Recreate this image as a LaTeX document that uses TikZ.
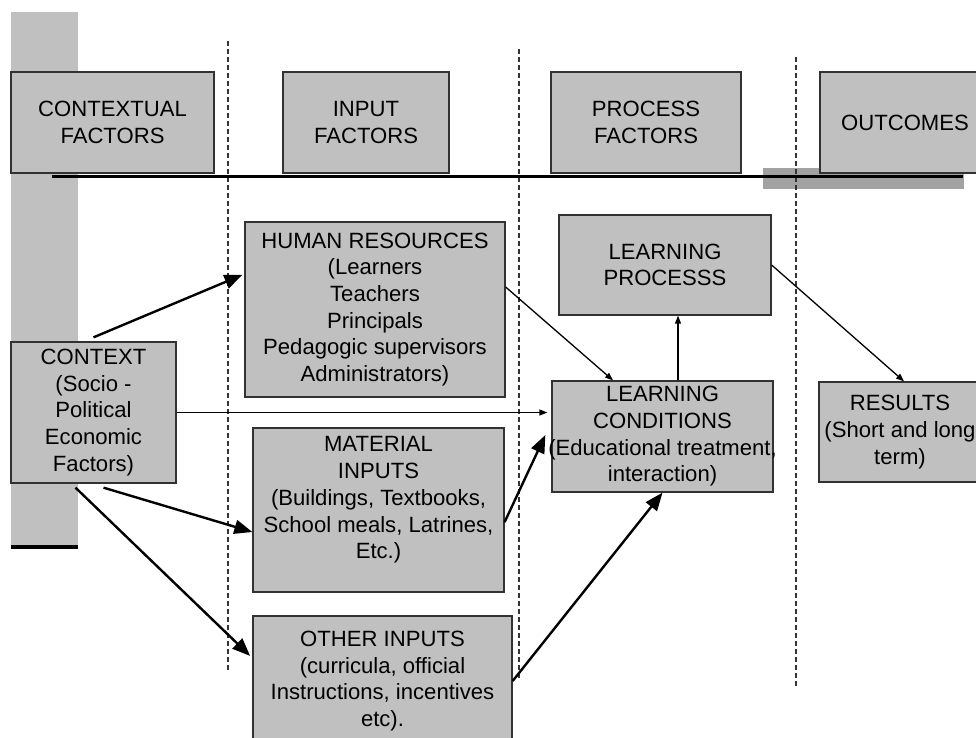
\documentclass[tikz,border=0pt]{standalone}
\usepackage{fontspec}
\setmainfont{Liberation Sans}
\usetikzlibrary{arrows.meta}
\definecolor{boxgray}{RGB}{192,192,192}
\definecolor{bandgray}{RGB}{162,162,162}
\definecolor{edgegray}{RGB}{50,50,50}

\tikzset{
  box/.style={shape=rectangle,draw=edgegray,fill=boxgray,line width=1.3pt,inner sep=0pt,
    align=center,font=\fontsize{22.1}{26.7}\selectfont},
  boxtext/.style={align=center,inner sep=0pt,font=\fontsize{22.1}{26.7}\selectfont},
  bigarrow/.style={line width=2.4pt,-{Triangle[length=18pt,width=14pt]}},
  slimarrow/.style={line width=1.3pt,-{Triangle[length=8pt,width=6pt]}},
  divider/.style={line width=1.2pt,draw=black!80,dash pattern=on 5pt off 3pt}
}

\begin{document}
\begin{tikzpicture}[x=1pt,y=-1pt]
  \useasboundingbox (0,0) rectangle (976,737);
  \clip (0,0) rectangle (976,737);

  % bands and column dividers
  \fill[boxgray] (11,12) rectangle (78,545);
  \draw[line width=4pt] (11,547) -- (78,547);
  \fill[bandgray] (763,168) rectangle (964,189);
  \draw[divider] (228,41) -- (228,671);
  \draw[divider] (519,49) -- (519,679);
  \draw[divider] (796,57) -- (796,687);

  % column headings
  \node[box,minimum width=203pt,minimum height=101pt] (contextual) at (112.5,122.5) {CONTEXTUAL\\FACTORS};
  \node[box,minimum width=166pt,minimum height=101pt] (input) at (366,122.5) {INPUT\\FACTORS};
  \node[box,minimum width=190pt,minimum height=101pt] (process) at (646,122.5) {PROCESS\\FACTORS};
  \node[box,minimum width=170pt,minimum height=101pt] (outcomes) at (905,122.5) {OUTCOMES};
  \draw[line width=3pt] (52,176) -- (963,176);

  % boxes
  \node[box,minimum width=165pt,minimum height=141pt] (context) at (93.5,412.5) {CONTEXT\\(Socio -\\Political\\Economic\\Factors)};
  \node[box,minimum width=260pt,minimum height=175pt] (human) at (375,309.5) {HUMAN RESOURCES\\(Learners\\Teachers\\Principals\\Pedagogic supervisors\\Administrators)};
  \node[box,minimum width=251pt,minimum height=164pt] (material) at (378.5,510) {};
  \node[boxtext] (materialtext) at (378.5,500) {MATERIAL\\INPUTS\\(Buildings, Textbooks,\\School meals, Latrines,\\Etc.)};
  \node[box,minimum width=259pt,minimum height=130pt] (other) at (382.5,681) {OTHER INPUTS\\(curricula, official\\Instructions, incentives\\etc).};
  \node[box,minimum width=212pt,minimum height=100pt] (lp) at (665,265) {LEARNING\\PROCESSS};
  \node[box,minimum width=221pt,minimum height=111pt] (lc) at (662.5,436.5) {LEARNING\\CONDITIONS\\\makebox[200pt]{(Educational treatment,}\\interaction)};
  \node[box,minimum width=162pt,minimum height=100pt] (results) at (900,432) {RESULTS\\(Short and long\\term)};

  % arrows
  \draw[bigarrow,shorten >=2pt] ([yshift=4pt]context.north) -- ([yshift=35.5pt]human.west);
  \draw[slimarrow,shorten >=4pt] (context.east) -- (context.east -| lc.west);
  \draw[bigarrow] ([xshift=10pt,yshift=-4pt]context.south) -- ([yshift=-22pt]material.west);
  \draw[bigarrow,shorten >=3pt] ([xshift=-18pt,yshift=-4pt]context.south) -- ([yshift=23pt]other.west);
  \draw[slimarrow] ([yshift=22.5pt]human.east) -- ([xshift=-49.5pt]lc.north);
  \draw[bigarrow] ([yshift=-12pt]material.east) -- ([xshift=-6pt,yshift=1.5pt]lc.west);
  \draw[bigarrow] (other.east) -- (lc.south);
  \draw[slimarrow] ([xshift=15.5pt]lc.north) -- ([xshift=15.5pt]lc.north |- lp.south);
  \draw[slimarrow] (lp.east) -- ([xshift=4pt]results.north);
\end{tikzpicture}
\end{document}
